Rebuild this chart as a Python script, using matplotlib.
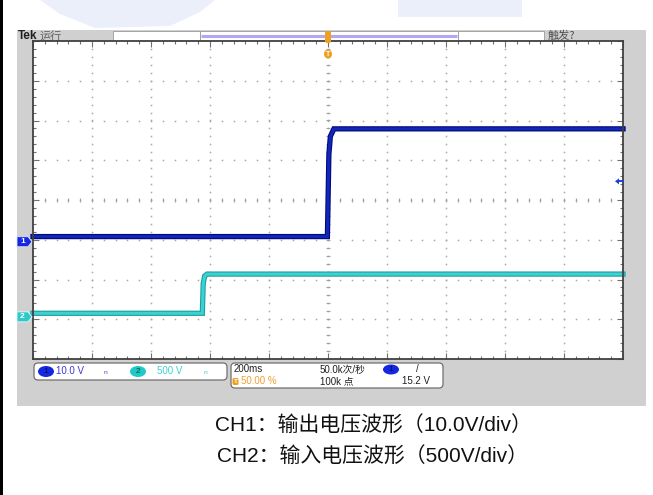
import matplotlib
matplotlib.use('Agg')
import matplotlib.pyplot as plt
from matplotlib.patches import Rectangle, FancyBboxPatch, Ellipse, Polygon
import matplotlib.patheffects as pe
import numpy as np

plt.rcParams['font.family'] = ['Liberation Sans', 'Noto Sans CJK SC', 'DejaVu Sans']

# ---------------- data ----------------
ch1_time_s = [-1.0, -0.002, 0.003, 0.008, 0.02, 1.0]
ch1_volts = [1.3, 1.3, 22.0, 26.5, 28.4, 28.4]
ch2_time_s = [-1.0, -0.426, -0.423, -0.418, -0.41, 1.0]
ch2_volts = [45.0, 45.0, 420.0, 515.0, 538.0, 538.0]
ch1_scale = 10.0      # V/div
ch2_scale = 500.0     # V/div
time_scale = 0.2      # s/div
ch1_offset_div = -1.05
ch2_offset_div = -2.94
trigger_level = 15.2
caption_lines = ["CH1：输出电压波形（10.0V/div）", "CH2：输入电压波形（500V/div）"]

W, H = 653, 495
fig = plt.figure(figsize=(W / 100, H / 100), dpi=100)
fig.patch.set_facecolor('white')

def px_axes(z):
    a = fig.add_axes([0, 0, 1, 1], zorder=z)
    a.set_xlim(0, W)
    a.set_ylim(H, 0)
    a.axis('off')
    a.patch.set_alpha(0)
    return a

bg = px_axes(0)
GRAY = '#d0d0d0'

# watermark (faint)
for poly in ([(40, 0), (215, 0), (200, 12), (170, 26), (95, 28), (60, 14)],
             [(398, 0), (522, 0), (522, 17), (398, 17)]):
    bg.add_patch(Polygon(poly, closed=True, facecolor='#e4eaf8', edgecolor='none', alpha=0.75))

# left black border
bg.add_patch(Rectangle((0, 0), 3, H, facecolor='black', edgecolor='none'))

# scope gray panel
bg.add_patch(Rectangle((17, 30), 629, 376, facecolor=GRAY, edgecolor='none'))
# top bar boxes
bg.add_patch(Rectangle((113, 31), 87, 10, facecolor='white', edgecolor='#9a9a9a', lw=0.6))
bg.add_patch(Rectangle((200, 31), 258, 10, facecolor='white', edgecolor='#9a9a9a', lw=0.6))
bg.plot([201, 457], [36, 36], color='#b0a8f0', lw=2.2, solid_capstyle='butt')
bg.add_patch(Rectangle((458, 31), 86, 10, facecolor='white', edgecolor='#9a9a9a', lw=0.6))
bg.text(18, 36, 'Tek', fontsize=8.5, fontweight='bold', color='#202020', va='center', ha='left')
bg.text(40, 36, '运行', fontsize=8, color='#606060', va='center', ha='left',
        family=['Noto Sans CJK SC'])
bg.text(548, 36, '触发?', fontsize=8, color='#505050', va='center', ha='left',
        family=['Noto Sans CJK SC', 'DejaVu Sans'])

# bottom info boxes
bg.add_patch(FancyBboxPatch((34, 363), 193, 17, boxstyle='round,pad=0,rounding_size=4',
                            facecolor='white', edgecolor='#707070', lw=0.9))
bg.add_patch(FancyBboxPatch((231, 363), 212, 25, boxstyle='round,pad=0,rounding_size=4',
                            facecolor='white', edgecolor='#707070', lw=0.9))
bg.add_patch(Ellipse((46, 371.5), 16, 11, facecolor='#1428e0', edgecolor='none'))
bg.text(46, 371.5, '1', fontsize=6, color='#0a0a60', ha='center', va='center')
bg.text(56, 371.5, '10.0 V', fontsize=7, color='#3a3ad0', ha='left', va='center')
bg.text(105, 371.5, 'ₙ', fontsize=7, color='#3a3ad0', ha='center', va='center',
        family=['DejaVu Sans'])
bg.add_patch(Ellipse((138, 371.5), 16, 11, facecolor='#20c8c8', edgecolor='none'))
bg.text(138, 371.5, '2', fontsize=6, color='#0a4040', ha='center', va='center')
bg.text(157, 371.5, '500 V', fontsize=7, color='#40d0d0', ha='left', va='center')
bg.text(205, 371.5, 'ₙ', fontsize=7, color='#40c8c8', ha='center', va='center',
        family=['DejaVu Sans'])
bg.text(234, 369.5, '200ms', fontsize=7, color='#202020', ha='left', va='center')
bg.add_patch(FancyBboxPatch((232.5, 378), 6, 7, boxstyle='round,pad=0,rounding_size=1.5',
                            facecolor='#f0a020', edgecolor='none'))
bg.text(235.5, 381.5, 'T', fontsize=4.5, color='white', ha='center', va='center', fontweight='bold')
bg.text(241, 381.5, '50.00 %', fontsize=7, color='#f0a030', ha='left', va='center')
bg.text(320, 369.5, '50.0k次/秒', fontsize=7, color='#202020', ha='left', va='center')
bg.text(320, 381.5, '100k 点', fontsize=7, color='#202020', ha='left', va='center')
bg.add_patch(Ellipse((391, 369.5), 16, 10, facecolor='#1428e0', edgecolor='none'))
bg.text(391, 369.5, '1', fontsize=6, color='#0a0a60', ha='center', va='center')
bg.text(417, 369.5, '/', fontsize=7, color='#202020', ha='center', va='center')
bg.text(402, 381.5, '15.2 V', fontsize=7, color='#202020', ha='left', va='center')

# captions
bg.text(373, 425, caption_lines[0], fontsize=15, color='#111111', ha='center', va='center')
bg.text(373, 456, caption_lines[1], fontsize=15, color='#111111', ha='center', va='center')

# ---------------- plot area ----------------
L, T, R, B = 33, 41, 623, 359
ax = fig.add_axes([L / W, 1 - B / H, (R - L) / W, (B - T) / H], zorder=1)
ax.set_facecolor('white')
ax.set_xlim(-5, 5)
ax.set_ylim(-4, 4)

# graticule dots
minor = np.arange(-5, 5.001, 0.2)
minor_y = np.arange(-4, 4.001, 0.2)
for xv in range(-4, 5):
    ax.plot(np.full_like(minor_y, xv), minor_y, ls='none', marker='s', ms=1.1,
            color='#a8a8a8', mew=0)
for yv in range(-3, 4):
    ax.plot(minor, np.full_like(minor, yv), ls='none', marker='s', ms=1.1,
            color='#a8a8a8', mew=0)
# center crosshair ticks
ax.plot(minor, np.zeros_like(minor), ls='none', marker='|', ms=3, color='#a0a0a0', mew=0.8)
ax.plot(np.zeros_like(minor_y), minor_y, ls='none', marker='_', ms=3, color='#a0a0a0', mew=0.8)

ax.set_xticks(np.arange(-5, 5.01, 1))
ax.set_yticks(np.arange(-4, 4.01, 1))
ax.set_xticks(minor, minor=True)
ax.set_yticks(minor_y, minor=True)
ax.tick_params(which='both', direction='in', top=True, right=True, bottom=True, left=True,
               labelbottom=False, labelleft=False, color='#707070', width=0.8)
ax.tick_params(which='major', length=4)
ax.tick_params(which='minor', length=2.5)
for s in ax.spines.values():
    s.set_color('#404040')
    s.set_linewidth(1.3)

t1 = np.array(ch1_time_s) / time_scale
y1 = ch1_offset_div + np.array(ch1_volts) / ch1_scale
t2 = np.array(ch2_time_s) / time_scale
y2 = ch2_offset_div + np.array(ch2_volts) / ch2_scale

ax.plot(t2, y2, color='#3cd2d2', lw=2.2, solid_joinstyle='miter',
        path_effects=[pe.Stroke(linewidth=3.8, foreground='#1e9e9e'), pe.Normal()], clip_on=False)
ax.plot(t1, y1, color='#1226b8', lw=2.2, solid_joinstyle='miter',
        path_effects=[pe.Stroke(linewidth=3.8, foreground='#000a78'), pe.Normal()], clip_on=False)

# ---------------- foreground markers ----------------
fg = px_axes(2)
def yp(div):
    return T + (4 - div) * (B - T) / 8.0

# channel ground markers
c1y = yp(ch1_offset_div)
fg.add_patch(Polygon([(17, c1y - 5), (28, c1y - 5), (32, c1y), (28, c1y + 5), (17, c1y + 5)],
                     closed=True, facecolor='#1428e0', edgecolor='#e0e0ff', lw=0.6))
fg.text(22.5, c1y, '1', fontsize=6, color='white', ha='center', va='center', fontweight='bold')
c2y = yp(ch2_offset_div)
fg.add_patch(Polygon([(17, c2y - 5), (28, c2y - 5), (32, c2y), (28, c2y + 5), (17, c2y + 5)],
                     closed=True, facecolor='#30c8c8', edgecolor='#e0ffff', lw=0.6))
fg.text(22.5, c2y, '2', fontsize=6, color='white', ha='center', va='center', fontweight='bold')

# trigger level arrow (right)
ty = yp(ch1_offset_div + trigger_level / ch1_scale)
fg.add_patch(Polygon([(615, ty), (619, ty - 3), (619, ty + 3)], closed=True,
                     facecolor='#2040e0', edgecolor='none'))
fg.plot([618, 623], [ty, ty], color='#2040e0', lw=1.4)

# trigger position markers (top)
tx = (L + R) / 2
fg.add_patch(FancyBboxPatch((tx - 3, 31), 6, 12, boxstyle='round,pad=0,rounding_size=2',
                            facecolor='#f0a020', edgecolor='none'))
fg.add_patch(Ellipse((tx, 54), 8, 9, facecolor='#f0a020', edgecolor='none'))
fg.text(tx, 54, 'T', fontsize=5, color='white', ha='center', va='center', fontweight='bold')

fig.savefig('out.png', dpi=100)
